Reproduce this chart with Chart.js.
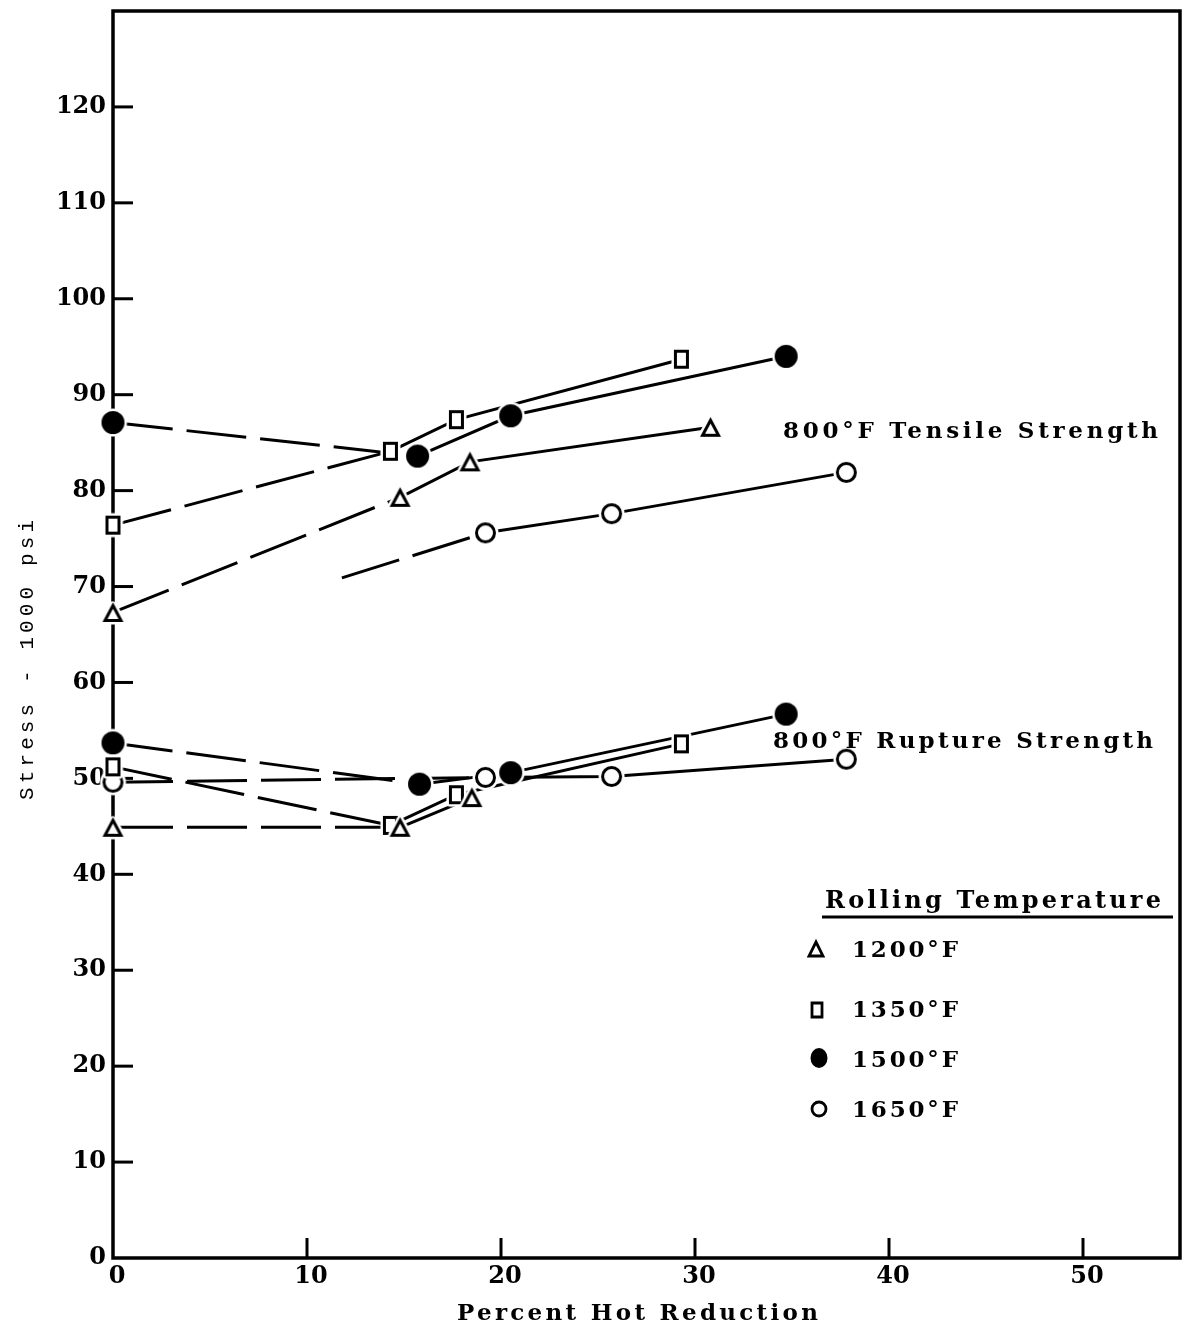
<!DOCTYPE html>
<html>
<head>
<meta charset="utf-8">
<script src="https://cdn.jsdelivr.net/npm/chart.js@4.4.1/dist/chart.umd.min.js"></script>
<style>
  html, body { margin: 0; padding: 0; background: #fff; }
  canvas { display: block; }
</style>
</head>
<body>
<canvas id="c" width="1186" height="1327"></canvas>
<script>
// ---------------- DATA ----------------
const xTicks = [0, 10, 20, 30, 40, 50];
const yTicks = [0, 10, 20, 30, 40, 50, 60, 70, 80, 90, 100, 110, 120];

const temps = ['1200°F', '1350°F', '1500°F', '1650°F'];

// 800°F tensile strength (1000 psi) vs percent hot reduction
const tens1200X = [0, 14.8, 18.4, 30.8];
const tens1200Y = [67.3, 79.3, 83.0, 86.6];
const tens1350X = [0, 14.3, 17.7, 29.3];
const tens1350Y = [76.4, 84.1, 87.4, 93.7];
const tens1500X = [0, 15.7, 20.5, 34.7];
const tens1500Y = [87.1, 83.6, 87.8, 94.0];
const tens1650X = [11.8, 19.2, 25.7, 37.8];   // first value: start of dashed extrapolation (no marker)
const tens1650Y = [70.9, 75.6, 77.6, 81.9];

// 800°F rupture strength (1000 psi)
const rup1200X = [0, 14.8, 18.5];
const rup1200Y = [44.9, 44.9, 48.0];
const rup1350X = [0, 14.3, 17.7, 29.3];
const rup1350Y = [51.2, 45.1, 48.3, 53.6];
const rup1500X = [0, 15.8, 20.5, 34.7];
const rup1500Y = [53.7, 49.4, 50.6, 56.7];
const rup1650X = [0, 19.2, 25.7, 37.8];
const rup1650Y = [49.6, 50.1, 50.2, 52.0];

const labelTensile = '800°F Tensile Strength';
const labelRupture = '800°F Rupture Strength';
const legendTitle = 'Rolling Temperature';
const xTitle = 'Percent Hot Reduction';
const yTitle = 'Stress - 1000 psi';

// ---------------- MARKERS ----------------
function makeMarker(kind) {
  const pad = 5;
  let w, h;
  if (kind === 'tri') { w = 19; h = 19; }
  else if (kind === 'rect') { w = 15; h = 19; }
  else if (kind === 'dot') { w = h = 23; }
  else { w = h = 21; }
  const c = document.createElement('canvas');
  c.width = w + pad * 2; c.height = h + pad * 2;
  const g = c.getContext('2d');
  g.translate(pad, pad);
  const path = () => {
    g.beginPath();
    if (kind === 'tri') {
      g.moveTo(w / 2, 2.5); g.lineTo(w - 1.5, h - 1.5); g.lineTo(1.5, h - 1.5); g.closePath();
    } else if (kind === 'rect') {
      g.rect(1.5, 1.5, w - 3, h - 3);
    } else {
      g.arc(w / 2, h / 2, w / 2 - 1.5, 0, Math.PI * 2);
    }
  };
  path(); g.lineJoin = 'round'; g.lineWidth = 8; g.strokeStyle = '#fff'; g.stroke(); g.fillStyle = '#fff'; g.fill();
  path(); g.lineJoin = 'miter'; g.lineWidth = 3; g.strokeStyle = '#000';
  if (kind === 'dot') { g.fillStyle = '#000'; g.fill(); }
  g.stroke();
  return c;
}
const mk = { tri: makeMarker('tri'), rect: makeMarker('rect'), dot: makeMarker('dot'), ring: makeMarker('ring') };

const toPts = (xs, ys) => xs.map((x, i) => ({ x, y: ys[i] }));

const series = [
  { xs: tens1200X, ys: tens1200Y, m: 'tri' },
  { xs: tens1350X, ys: tens1350Y, m: 'rect' },
  { xs: tens1500X, ys: tens1500Y, m: 'dot' },
  { xs: tens1650X, ys: tens1650Y, m: 'ring', noFirst: true },
  { xs: rup1200X, ys: rup1200Y, m: 'tri' },
  { xs: rup1350X, ys: rup1350Y, m: 'rect' },
  { xs: rup1500X, ys: rup1500Y, m: 'dot' },
  { xs: rup1650X, ys: rup1650Y, m: 'ring' }
];

const datasets = [];
series.forEach(s => {
  datasets.push({
    data: toPts(s.xs, s.ys),
    showLine: true,
    borderColor: '#000',
    borderWidth: 3,
    pointRadius: 0,
    tension: 0,
    clip: false,
    order: 2,
    segment: { borderDash: c => c.p0DataIndex === 0 ? [60, 14] : undefined }
  });
});
series.forEach(s => {
  datasets.push({
    data: toPts(s.xs, s.ys),
    showLine: false,
    pointStyle: mk[s.m],
    pointRadius: s.xs.map((v, i) => (s.noFirst && i === 0) ? 0 : 10),
    clip: false,
    order: 1
  });
});

// ---------------- DECORATION ----------------
function fitText(ctx, text, x, y, width, font) {
  ctx.font = font;
  ctx.letterSpacing = '0px';
  const w = ctx.measureText(text).width;
  const n = [...text].length;
  const ls = Math.max(0, (width - w) / (n - 1));
  ctx.letterSpacing = ls.toFixed(2) + 'px';
  ctx.textAlign = 'left';
  ctx.textBaseline = 'alphabetic';
  ctx.fillText(text, x, y);
  ctx.letterSpacing = '0px';
}

const SERIF = 'bold 23px "DejaVu Serif"';

const decor = {
  id: 'decor',
  beforeDraw(chart) {
    const ctx = chart.ctx;
    ctx.save();
    ctx.fillStyle = '#fff';
    ctx.fillRect(0, 0, chart.width, chart.height);
    ctx.restore();
  },
  beforeDatasetsDraw(chart) {
    const { ctx, chartArea: a, scales: { x, y } } = chart;
    ctx.save();
    ctx.strokeStyle = '#000';
    ctx.lineWidth = 3.5;
    ctx.strokeRect(a.left, a.top, a.right - a.left, a.bottom - a.top);
    ctx.lineWidth = 3;
    yTicks.forEach(v => {
      if (v === 0) return;
      const py = y.getPixelForValue(v);
      ctx.beginPath(); ctx.moveTo(a.left, py); ctx.lineTo(a.left + 20, py); ctx.stroke();
    });
    xTicks.forEach(v => {
      if (v === 0) return;
      const px = x.getPixelForValue(v);
      ctx.beginPath(); ctx.moveTo(px, a.bottom); ctx.lineTo(px, a.bottom - 20); ctx.stroke();
    });
    ctx.restore();
  },
  afterDraw(chart) {
    const ctx = chart.ctx;
    ctx.save();
    ctx.fillStyle = '#000';
    ctx.strokeStyle = '#000';
    // curve labels
    fitText(ctx, labelTensile, 783, 438, 375, SERIF);
    fitText(ctx, labelRupture, 773, 748, 380, SERIF);
    // axis titles
    fitText(ctx, xTitle, 457, 1320, 361, SERIF);
    ctx.save();
    ctx.translate(33, 800);
    ctx.rotate(-Math.PI / 2);
    fitText(ctx, yTitle, 0, 0, 280, '21px "Liberation Mono"');
    ctx.restore();
    // legend
    fitText(ctx, legendTitle, 825, 908, 336, 'bold 24px "DejaVu Serif"');
    ctx.lineWidth = 3;
    ctx.beginPath(); ctx.moveTo(822, 917); ctx.lineTo(1173, 917); ctx.stroke();
    const rows = [957, 1017, 1067, 1117];
    temps.forEach((t, i) => fitText(ctx, t, 852, rows[i], 106, SERIF));
    ctx.lineWidth = 2.8;
    // triangle
    ctx.beginPath(); ctx.moveTo(816, 942); ctx.lineTo(823, 956); ctx.lineTo(809, 956); ctx.closePath(); ctx.stroke();
    // square
    ctx.beginPath(); ctx.rect(812, 1003, 10, 14); ctx.stroke();
    // filled circle
    ctx.beginPath(); ctx.ellipse(819, 1058, 8.5, 10, 0, 0, Math.PI * 2); ctx.fill();
    // open circle
    ctx.beginPath(); ctx.arc(819, 1109, 7, 0, Math.PI * 2); ctx.stroke();
    ctx.restore();
  }
};

const tickFont = { family: 'DejaVu Serif', size: 24, weight: 'bold' };

new Chart(document.getElementById('c'), {
  type: 'scatter',
  data: { datasets },
  options: {
    responsive: false,
    animation: false,
    layout: { autoPadding: false, padding: { top: 11, right: 6, left: 0, bottom: 0 } },
    plugins: { legend: { display: false }, tooltip: { enabled: false } },
    scales: {
      x: {
        type: 'linear', min: 0, max: 55,
        afterBuildTicks: s => { s.ticks = xTicks.map(v => ({ value: v })); },
        afterFit: s => { s.height = 69; s.paddingLeft = 0; s.paddingRight = 0; },
        grid: { display: false, drawTicks: false },
        border: { display: false },
        ticks: { color: '#000', font: tickFont, padding: 4, labelOffset: 4, maxRotation: 0, autoSkip: false }
      },
      y: {
        type: 'linear', min: 0, max: 130,
        afterBuildTicks: s => { s.ticks = yTicks.map(v => ({ value: v })); },
        afterFit: s => { s.width = 113; s.paddingTop = 0; s.paddingBottom = 0; },
        grid: { display: false, drawTicks: false },
        border: { display: false },
        ticks: { color: '#000', font: tickFont, padding: 7, autoSkip: false }
      }
    }
  },
  plugins: [decor]
});
</script>
</body>
</html>
